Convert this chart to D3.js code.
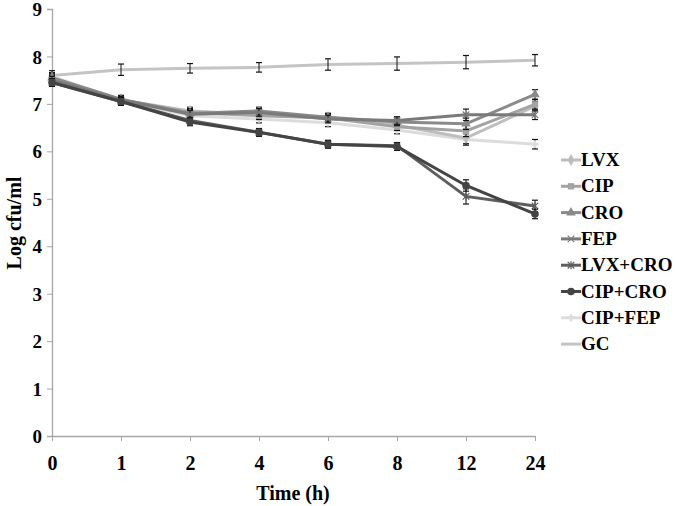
<!DOCTYPE html>
<html><head><meta charset="utf-8">
<script src="https://cdn.jsdelivr.net/npm/d3@7"></script>
<style>body{margin:0;background:#fff}svg{display:block}</style>
</head><body>
<script>
const times = ["0","1","2","4","6","8","12","24"];
const yTicks = [0,1,2,3,4,5,6,7,8,9];
const seriesNames = ["LVX","CIP","CRO","FEP","LVX+CRO","CIP+CRO","CIP+FEP","GC"];
const LVX     = [7.55, 7.08, 6.85, 6.78, 6.72, 6.55, 6.28, 6.95];
const CIP     = [7.52, 7.08, 6.82, 6.75, 6.70, 6.52, 6.43, 6.99];
const CRO     = [7.55, 7.10, 6.80, 6.85, 6.72, 6.62, 6.58, 7.20];
const FEP     = [7.50, 7.08, 6.78, 6.82, 6.68, 6.65, 6.77, 6.77];
const LVX_CRO = [7.45, 7.05, 6.65, 6.40, 6.15, 6.12, 5.05, 4.85];
const CIP_CRO = [7.45, 7.05, 6.62, 6.40, 6.15, 6.10, 5.28, 4.68];
const CIP_FEP = [7.58, 7.08, 6.75, 6.68, 6.60, 6.45, 6.25, 6.15];
const GC      = [7.60, 7.72, 7.75, 7.77, 7.83, 7.85, 7.88, 7.92];
const errGC    = [0.10, 0.12, 0.10, 0.10, 0.12, 0.14, 0.14, 0.12];
const errOther = [0.08, 0.08, 0.08, 0.08, 0.08, 0.08, 0.12, 0.10];
const errLvxCro= [0.08, 0.08, 0.06, 0.08, 0.08, 0.06, 0.16, 0.12];

const values = [LVX, CIP, CRO, FEP, LVX_CRO, CIP_CRO, CIP_FEP, GC];
const errs = [errOther, errOther, errOther, errOther, errLvxCro, errOther, errOther, errGC];
const colors = ["#bdbdbd","#a3a3a3","#8a8a8a","#7a7a7a","#5e5e5e","#444444","#dcdcdc","#c4c4c4"];
const markers = ["diamond","square","triangle","x","star","circle","plus","none"];

const W = 676, H = 506;
const svg = d3.select("body").append("svg").attr("width", W).attr("height", H);
const x = d3.scalePoint().domain(times).range([52, 535]);
const y = d3.scaleLinear().domain([0, 9]).range([436, 9]);
const font = "'Liberation Serif','Times New Roman',serif";
const axisCol = "#a6a6a6";

// y axis
const ya = svg.append("g").attr("transform", "translate(52,0)")
  .call(d3.axisLeft(y).tickValues(yTicks).tickSize(5).tickFormat(d3.format("d")));
ya.select(".domain").attr("stroke", axisCol).attr("stroke-width", 1.3);
ya.selectAll(".tick line").attr("stroke", axisCol);
ya.selectAll(".tick text").attr("font-family", font).attr("font-weight", "bold")
  .attr("font-size", 19).attr("fill", "#000").attr("x", -10).attr("dy", "0.35em");

// x axis
const xa = svg.append("g").attr("transform", "translate(0,436)")
  .call(d3.axisBottom(x).tickSize(5).tickSizeOuter(0));
xa.select(".domain").attr("stroke", axisCol).attr("stroke-width", 1.3);
xa.selectAll(".tick line").attr("stroke", axisCol);
xa.selectAll(".tick text").attr("font-family", font).attr("font-weight", "bold")
  .attr("font-size", 20).attr("fill", "#000").attr("y", 20);

svg.append("text").attr("x", 293).attr("y", 500).attr("text-anchor", "middle")
  .attr("font-family", font).attr("font-weight", "bold").attr("font-size", 20).text("Time (h)");
svg.append("text").attr("transform", "translate(21,223) rotate(-90)").attr("text-anchor", "middle")
  .attr("font-family", font).attr("font-weight", "bold").attr("font-size", 20).text("Log cfu/ml");

const line = d3.line().x((d, i) => x(times[i])).y(d => y(d));

function drawMarker(g, type, cx, cy, col, s) {
  s = s || 1;
  if (type === "diamond") g.append("path").attr("d", d3.symbol(d3.symbolDiamond, 40 * s)()).attr("transform", `translate(${cx},${cy})`).attr("fill", col);
  else if (type === "square") g.append("path").attr("d", d3.symbol(d3.symbolSquare, 40 * s)()).attr("transform", `translate(${cx},${cy})`).attr("fill", col);
  else if (type === "triangle") g.append("path").attr("d", d3.symbol(d3.symbolTriangle, 40 * s)()).attr("transform", `translate(${cx},${cy})`).attr("fill", col);
  else if (type === "circle") g.append("path").attr("d", d3.symbol(d3.symbolCircle, 45 * s)()).attr("transform", `translate(${cx},${cy})`).attr("fill", col);
  else if (type === "x") g.append("path").attr("d", d3.symbol(d3.symbolX, 30 * s)()).attr("transform", `translate(${cx},${cy})`).attr("fill", "none").attr("stroke", col).attr("stroke-width", 1.2);
  else if (type === "star") {
    g.append("path").attr("d", d3.symbol(d3.symbolX, 30 * s)()).attr("transform", `translate(${cx},${cy})`).attr("fill", "none").attr("stroke", col).attr("stroke-width", 1.2);
    g.append("line").attr("x1", cx).attr("x2", cx).attr("y1", cy - 4).attr("y2", cy + 4).attr("stroke", col).attr("stroke-width", 1.2);
  }
  else if (type === "plus") g.append("path").attr("d", d3.symbol(d3.symbolCross, 30 * s)()).attr("transform", `translate(${cx},${cy})`).attr("fill", col);
}

// draw series: GC first, then others so dark ones are on top
const order = [7, 6, 0, 1, 2, 3, 4, 5];
order.forEach(si => {
  const g = svg.append("g");
  const vals = values[si];
  g.append("path").datum(vals).attr("d", line).attr("fill", "none")
    .attr("stroke", colors[si]).attr("stroke-width", 3);
  vals.forEach((v, i) => {
    const cx = x(times[i]);
    const e = errs[si][i];
    g.append("line").attr("x1", cx).attr("x2", cx).attr("y1", y(v + e)).attr("y2", y(v - e)).attr("stroke", "#111").attr("stroke-width", 1);
    [v + e, v - e].forEach(ev => g.append("line").attr("x1", cx - 3).attr("x2", cx + 3)
      .attr("y1", y(ev)).attr("y2", y(ev)).attr("stroke", "#111").attr("stroke-width", 1.2));
    drawMarker(g, markers[si], cx, y(v), colors[si]);
  });
});

// legend
const lg = svg.append("g");
seriesNames.forEach((n, i) => {
  const ly = 160 + i * 26.3;
  lg.append("line").attr("x1", 561).attr("x2", 581).attr("y1", ly).attr("y2", ly)
    .attr("stroke", colors[i]).attr("stroke-width", 3);
  drawMarker(lg, markers[i], 571, ly, colors[i]);
  lg.append("text").attr("x", 581).attr("y", ly + 6).attr("font-family", font)
    .attr("font-weight", "bold").attr("font-size", 19).attr("fill", "#000").text(n);
});
</script>
</body></html>
